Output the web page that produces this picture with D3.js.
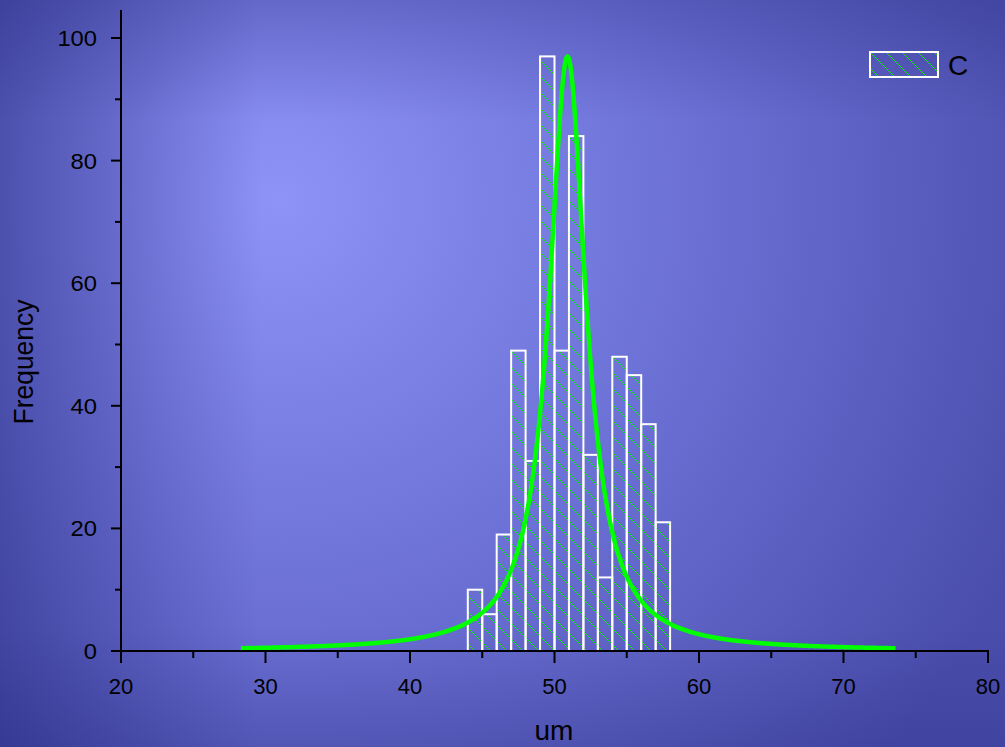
<!DOCTYPE html>
<html>
<head>
<meta charset="utf-8">
<script src="https://cdn.jsdelivr.net/npm/d3@7"></script>
<style>
  html, body { margin: 0; padding: 0; background: #4c50b0; }
  svg { display: block; }
  text { font-family: "Liberation Sans", Arial, sans-serif; fill: #000; }
</style>
</head>
<body>
<svg id="chart" width="1005" height="747"></svg>
<script>
// Histogram bins (left edge, unit width) and counts
const binStarts = [44, 45, 46, 47, 48, 49, 50, 51, 52, 53, 54, 55, 56, 57];
const counts    = [10, 6, 19, 49, 31, 97, 49, 84, 32, 12, 48, 45, 37, 21];
const binWidth = 1;

// Lorentz fit parameters: centre, FWHM, peak height, fitted range
const fitCenter = 50.9;
const fitFWHM = 3.1;
const fitPeak = 97;
const fitRange = [28.3, 73.6];

const xTicks = [20, 30, 40, 50, 60, 70, 80];
const yTicks = [0, 20, 40, 60, 80, 100];
const legendLabel = "C";

const W = 1005, H = 747;
const margin = { left: 121, right: 17, top: 10, bottom: 96 };
const svg = d3.select("#chart");
const defs = svg.append("defs");

// Background: soft light spot up-left, darker towards the edges
const rg = defs.append("radialGradient").attr("id", "bg")
  .attr("gradientUnits", "userSpaceOnUse")
  .attr("cx", 280).attr("cy", 200).attr("r", 820);
rg.append("stop").attr("offset", "0").attr("stop-color", "#8d93f7");
rg.append("stop").attr("offset", "0.45").attr("stop-color", "#6f74d9");
rg.append("stop").attr("offset", "1").attr("stop-color", "#4a4dab");
svg.append("rect").attr("width", W).attr("height", H).attr("fill", "url(#bg)");

const lg = defs.append("linearGradient").attr("id", "leftShade")
  .attr("x1", 0).attr("x2", 1).attr("y1", 0).attr("y2", 0);
lg.append("stop").attr("offset", "0").attr("stop-color", "#1a1c70").attr("stop-opacity", 0.45);
lg.append("stop").attr("offset", "1").attr("stop-color", "#1a1c70").attr("stop-opacity", 0);
svg.append("rect").attr("width", 260).attr("height", H).attr("fill", "url(#leftShade)");

const tg = defs.append("linearGradient").attr("id", "topShade")
  .attr("x1", 0).attr("x2", 0).attr("y1", 0).attr("y2", 1);
tg.append("stop").attr("offset", "0").attr("stop-color", "#1a1c70").attr("stop-opacity", 0.25);
tg.append("stop").attr("offset", "1").attr("stop-color", "#1a1c70").attr("stop-opacity", 0);
svg.append("rect").attr("width", W).attr("height", 120).attr("fill", "url(#topShade)");

const bg2 = defs.append("linearGradient").attr("id", "bottomShade")
  .attr("x1", 0).attr("x2", 0).attr("y1", 1).attr("y2", 0);
bg2.append("stop").attr("offset", "0").attr("stop-color", "#1a1c70").attr("stop-opacity", 0.2);
bg2.append("stop").attr("offset", "1").attr("stop-color", "#1a1c70").attr("stop-opacity", 0);
svg.append("rect").attr("y", H - 120).attr("width", W).attr("height", 120).attr("fill", "url(#bottomShade)");

// Hatch pattern for the bars
const hatch = defs.append("pattern").attr("id", "hatch")
  .attr("patternUnits", "userSpaceOnUse")
  .attr("width", 16).attr("height", 16);
hatch.append("path")
  .attr("d", "M-4,-4 L20,20 M-4,12 L4,20 M12,-4 L20,4")
  .attr("stroke", "#00ee00").attr("stroke-width", 1).attr("fill", "none");

const x = d3.scaleLinear().domain([20, 80]).range([margin.left, W - margin.right]);
const y = d3.scaleLinear().domain([0, 100]).range([651, 38]);

// Bars
const bars = binStarts.map((b, i) => ({ x0: b, x1: b + binWidth, v: counts[i] }));
svg.append("g").selectAll("rect").data(bars).join("rect")
  .attr("x", d => x(d.x0))
  .attr("y", d => y(d.v))
  .attr("width", d => x(d.x1) - x(d.x0))
  .attr("height", d => y(0) - y(d.v))
  .attr("fill", "url(#hatch)")
  .attr("stroke", "#ffffff")
  .attr("stroke-width", 2);

// Lorentz fit curve
const hw = fitFWHM / 2;
const lorentz = t => fitPeak * hw * hw / ((t - fitCenter) * (t - fitCenter) + hw * hw);
const curveXs = d3.range(fitRange[0], fitRange[1] + 1e-9, 0.05);
svg.append("path")
  .datum(curveXs)
  .attr("fill", "none")
  .attr("stroke", "#00ff00")
  .attr("stroke-width", 4.5)
  .attr("stroke-linejoin", "round")
  .attr("d", d3.line().x(t => x(t)).y(t => y(lorentz(t))));

// Axes
const axisColor = "#000";
const yAxis = svg.append("g").attr("transform", `translate(${margin.left},0)`);
yAxis.append("line").attr("x1", 0).attr("x2", 0).attr("y1", 10).attr("y2", 652)
  .attr("stroke", axisColor).attr("stroke-width", 2);
yAxis.selectAll(".maj").data(yTicks).join("line")
  .attr("x1", -10).attr("x2", 0).attr("y1", d => y(d)).attr("y2", d => y(d))
  .attr("stroke", axisColor).attr("stroke-width", 2);
yAxis.selectAll(".min").data(d3.range(10, 100, 20)).join("line")
  .attr("x1", -6).attr("x2", 0).attr("y1", d => y(d)).attr("y2", d => y(d))
  .attr("stroke", axisColor).attr("stroke-width", 2);
yAxis.selectAll("text").data(yTicks).join("text")
  .attr("x", -24).attr("y", d => y(d)).attr("dy", "0.36em")
  .attr("text-anchor", "end").attr("font-size", 22)
  .each(function() {
    const s = d3.select(this);
    const yy = +s.attr("y");
    s.attr("transform", `translate(-24,${yy}) scale(1.08,1) translate(24,${-yy})`);
  })
  .text(d => d);

const xAxis = svg.append("g").attr("transform", `translate(0,651)`);
xAxis.append("line").attr("x1", margin.left - 1).attr("x2", x(80) + 1).attr("y1", 0).attr("y2", 0)
  .attr("stroke", axisColor).attr("stroke-width", 2);
xAxis.selectAll(".maj").data(xTicks).join("line")
  .attr("x1", d => x(d)).attr("x2", d => x(d)).attr("y1", 0).attr("y2", 12)
  .attr("stroke", axisColor).attr("stroke-width", 2);
xAxis.selectAll(".min").data(d3.range(25, 80, 10)).join("line")
  .attr("x1", d => x(d)).attr("x2", d => x(d)).attr("y1", 0).attr("y2", 7)
  .attr("stroke", axisColor).attr("stroke-width", 2);
xAxis.selectAll("text").data(xTicks).join("text")
  .attr("x", d => x(d)).attr("y", 43)
  .attr("text-anchor", "middle").attr("font-size", 22)
  .text(d => d);

// Axis titles
svg.append("text")
  .attr("transform", "translate(33,362) rotate(-90)")
  .attr("text-anchor", "middle").attr("font-size", 27)
  .attr("textLength", 125).attr("lengthAdjust", "spacingAndGlyphs")
  .text("Frequency");
svg.append("text")
  .attr("x", 554).attr("y", 740)
  .attr("text-anchor", "middle").attr("font-size", 28)
  .text("um");

// Legend
const leg = svg.append("g").attr("transform", "translate(870,52)");
leg.append("rect").attr("width", 68).attr("height", 25)
  .attr("fill", "url(#hatch)").attr("stroke", "#fff").attr("stroke-width", 2);
leg.append("text").attr("x", 78).attr("y", 13).attr("dy", "0.36em")
  .attr("font-size", 28).text(legendLabel);
</script>
</body>
</html>
